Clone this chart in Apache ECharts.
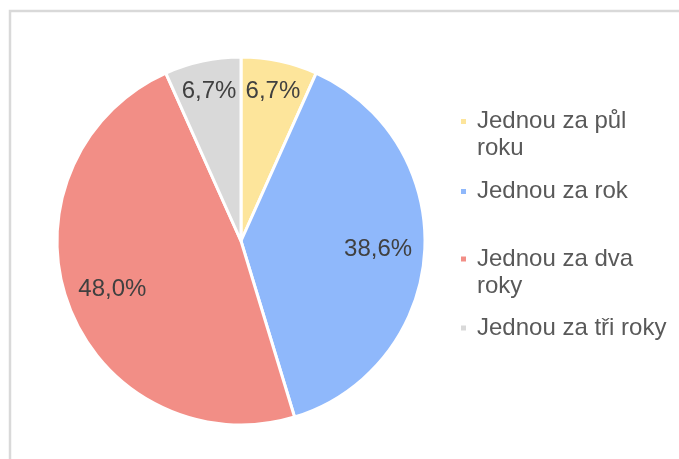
<!DOCTYPE html>
<html>
<head>
<meta charset="utf-8">
<script src="https://cdn.jsdelivr.net/npm/echarts@6/dist/echarts.min.js"></script>
<style>
  html, body { margin: 0; padding: 0; background: #fff; }
  #chart { width: 679px; height: 459px; }
</style>
</head>
<body>
<div id="chart"></div>
<script>
// kategorie a podily (v %)
const categories = ['Jednou za půl roku', 'Jednou za rok', 'Jednou za dva roky', 'Jednou za tři roky'];
const legendLabels = ['Jednou za půl\nroku', 'Jednou za rok', 'Jednou za dva\nroky', 'Jednou za tři roky'];
const shares = [6.7, 38.6, 48.0, 6.7];
const colors = ['#fde59b', '#8fb8fb', '#f28e86', '#d9d9d9'];

const cx = 241, cy = 241, R = 184;
const total = shares.reduce((a, b) => a + b, 0);
const font = "'Liberation Sans', Arial, sans-serif";

// label sits at ~0.8 of radius like Excel does
function placeLabel (params) {
  const i = params.dataIndex;
  let before = 0;
  for (let j = 0; j < i; j++) before += shares[j];
  const mid = before + shares[i] / 2;
  const a = (90 - mid / total * 360) * Math.PI / 180;
  const k = shares[i] < 10 ? 0.84 : 0.755;
  return {
    x: cx + k * (R - 2) * Math.cos(a),
    y: cy - k * (R - 2) * Math.sin(a),
    align: 'center',
    verticalAlign: 'middle'
  };
}

// one legend per item so the gaps match the original
// two-line names get an empty first line so the square stays next to line one
const legendTops = [81, 178, 218.5, 314.5];
const legends = categories.map((name, i) => ({
  data: [name],
  left: 459,
  top: legendTops[i],
  orient: 'vertical',
  padding: 0,
  icon: 'rect',
  itemWidth: 7,
  itemHeight: 7,
  selectedMode: false,
  formatter: () => (legendLabels[i].indexOf('\n') >= 0 ? '\n' : '') + legendLabels[i],
  textStyle: {
    color: '#595959',
    fontSize: 24,
    fontFamily: font,
    lineHeight: 27,
    padding: [0, 0, 0, 5]
  }
}));

const chart = echarts.init(document.getElementById('chart'));
chart.setOption({
  animation: false,
  color: colors,
  graphic: [{
    type: 'rect',
    shape: { x: 10, y: 11, width: 720, height: 520 },
    style: { fill: 'none', stroke: '#d9d9d9', lineWidth: 2.5 },
    silent: true
  }],
  legend: legends,
  series: [{
    type: 'pie',
    center: [cx, cy],
    radius: [0, R],
    startAngle: 90,
    clockwise: true,
    silent: true,
    itemStyle: { borderColor: '#fff', borderWidth: 3 },
    label: {
      show: true,
      position: 'inside',
      color: '#404040',
      fontSize: 24,
      fontFamily: font,
      formatter: p => p.value.toFixed(1).replace('.', ',') + '%'
    },
    labelLine: { show: false },
    labelLayout: placeLabel,
    data: categories.map((name, i) => ({ name: name, value: shares[i] }))
  }]
});
</script>
</body>
</html>
